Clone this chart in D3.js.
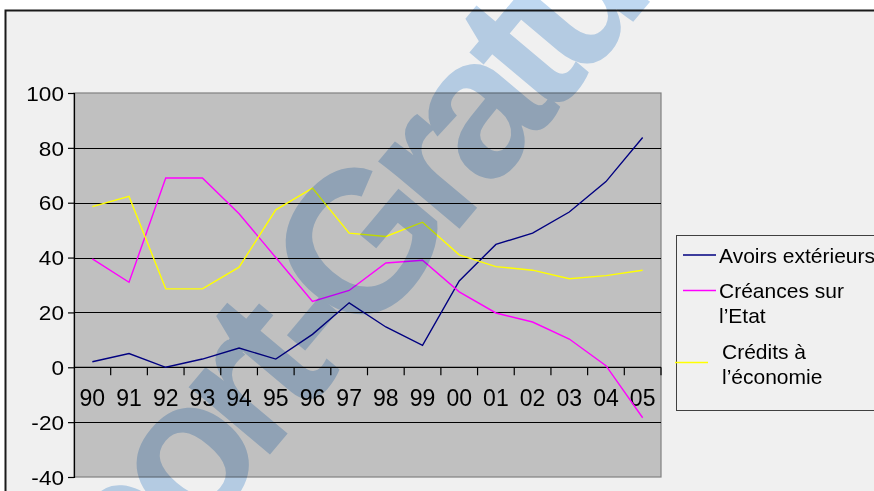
<!DOCTYPE html>
<html>
<head>
<meta charset="utf-8">
<script src="https://cdn.jsdelivr.net/npm/d3@7"></script>
<style>
  html, body { margin: 0; padding: 0; background: #ffffff; }
  svg { display: block; }
  text { font-family: "Liberation Sans", Arial, sans-serif; }
</style>
</head>
<body>
<svg id="chart" width="874" height="491"></svg>
<script>
// ---- data ----
const categories = ["90","91","92","93","94","95","96","97","98","99","00","01","02","03","04","05"];
const avoirsExterieurs = [2, 5, 0, 3, 7, 3, 12, 23.5, 14.7, 8, 31.5, 44.8, 48.9, 56.6, 67.7, 83.8];
const creancesEtat     = [39.5, 31, 69, 69, 56, 40, 24, 28, 38, 39, 27.5, 19.8, 16.5, 10.3, 0.6, -18.4];
const creditsEconomie  = [58.6, 62.3, 28.6, 28.6, 36.5, 57.4, 65.3, 48.9, 47.7, 52.9, 41, 36.7, 35.4, 32.3, 33.4, 35.4];
const yTicks = [-40, -20, 0, 20, 40, 60, 80, 100];
const seriesNames = ["Avoirs extérieurs", "Créances sur l’Etat", "Crédits à l’économie"];
const seriesColors = ["#000080", "#ff00ff", "#ffff00"];

const series = [
  { name: seriesNames[0], values: avoirsExterieurs, color: seriesColors[0] },
  { name: seriesNames[1], values: creancesEtat, color: seriesColors[1] },
  { name: seriesNames[2], values: creditsEconomie, color: seriesColors[2] }
];

const svg = d3.select("#chart");

// chart area background with frame
svg.append("rect").attr("x", 5.5).attr("y", 10.5).attr("width", 880).attr("height", 490)
  .attr("fill", "#f0f0f0").attr("stroke", "#1a1a1a").attr("stroke-width", 2);

const plot = { left: 74, right: 661, top: 93, bottom: 477 };

const x = d3.scaleBand().domain(categories).range([plot.left, plot.right]).paddingInner(0).paddingOuter(0);
const y = d3.scaleLinear().domain([-40, 100]).range([plot.bottom, plot.top]);
const cx = c => x(c) + x.bandwidth() / 2;

// plot background
svg.append("rect").attr("x", plot.left).attr("y", plot.top)
  .attr("width", plot.right - plot.left).attr("height", plot.bottom - plot.top)
  .attr("fill", "#c0c0c0").attr("stroke", "#808080").attr("stroke-width", 1.2);

// gridlines
svg.append("g").selectAll("line")
  .data(yTicks.filter(v => v !== -40 && v !== 100 && v !== 0))
  .join("line")
  .attr("x1", plot.left).attr("x2", plot.right)
  .attr("y1", d => Math.round(y(d)) + 0.5).attr("y2", d => Math.round(y(d)) + 0.5)
  .attr("stroke", "#000").attr("stroke-width", 1);

// y axis
const yAxis = svg.append("g")
  .attr("transform", `translate(${plot.left},0)`)
  .call(d3.axisLeft(y).tickValues(yTicks).tickSize(6).tickFormat(d => String(d)));
yAxis.select(".domain").attr("stroke", "#000").attr("stroke-width", 1.2);
yAxis.selectAll(".tick line").attr("stroke", "#000").attr("stroke-width", 1.2);
yAxis.selectAll(".tick text")
  .attr("font-size", 20).attr("fill", "#000")
  .attr("font-family", "'Liberation Sans', Arial, sans-serif")
  .attr("x", -10 / 1.13).attr("dy", "0.36em")
  .attr("transform", "scale(1.13,1)");

// zero axis line
svg.append("line").attr("x1", plot.left).attr("x2", plot.right)
  .attr("y1", y(0)).attr("y2", y(0)).attr("stroke", "#000").attr("stroke-width", 1.2);
// category tick marks (band boundaries)
svg.append("g").selectAll("line").data(categories).join("line")
  .attr("x1", d => x(d) + x.bandwidth()).attr("x2", d => x(d) + x.bandwidth())
  .attr("y1", y(0)).attr("y2", y(0) + 8)
  .attr("stroke", "#000").attr("stroke-width", 1.2);
// category labels
svg.append("g").selectAll("text").data(categories).join("text")
  .attr("x", d => cx(d)).attr("y", y(0) + 39)
  .attr("text-anchor", "middle").attr("font-size", 23).attr("fill", "#000")
  .text(d => d);

// lines
const line = d3.line().x((d, i) => cx(categories[i])).y(d => y(d));
svg.append("g").selectAll("path").data(series).join("path")
  .attr("d", d => line(d.values))
  .attr("fill", "none").attr("stroke", d => d.color).attr("stroke-width", 1.4)
  .attr("stroke-linejoin", "miter");

// legend
const lg = svg.append("g");
lg.append("rect").attr("x", 676.5).attr("y", 235.5).attr("width", 220).attr("height", 175)
  .attr("fill", "#f0f0f0").attr("stroke", "#404040").attr("stroke-width", 1);
const legendItems = [
  { s: series[0], lx1: 683, lx2: 716, ly: 255, tx: 719, lines: ["Avoirs extérieurs"], ty: 262.5 },
  { s: series[1], lx1: 683, lx2: 716, ly: 290.5, tx: 719, lines: ["Créances sur", "l’Etat"], ty: 298 },
  { s: series[2], lx1: 675, lx2: 708, ly: 362.5, tx: 722, lines: ["Crédits à", "l’économie"], ty: 358.5 }
];
legendItems.forEach(it => {
  lg.append("line").attr("x1", it.lx1).attr("x2", it.lx2).attr("y1", it.ly).attr("y2", it.ly)
    .attr("stroke", it.s.color).attr("stroke-width", 1.4);
  const t = lg.append("text").attr("x", it.tx).attr("y", it.ty).attr("font-size", 21).attr("fill", "#000");
  it.lines.forEach((l, i) => {
    t.append("tspan").attr("x", it.tx).attr("dy", i === 0 ? 0 : 25).text(l);
  });
});

// watermark
const wm = svg.append("g").attr("transform", "translate(362,345) rotate(-50)")
  .style("mix-blend-mode", "multiply");
wm.append("text").attr("x", 0).attr("y", 0).attr("text-anchor", "end")
  .attr("font-size", 200).attr("font-weight", "bold").attr("fill", "#bfd8f1")
  .attr("letter-spacing", -18)
  .text("Rapport-");
wm.append("text").attr("x", 0).attr("y", 0).attr("text-anchor", "start")
  .attr("font-size", 200).attr("font-weight", "bold").attr("fill", "#bfd8f1")
  .attr("letter-spacing", -18)
  .text("Gratuit.com");
</script>
</body>
</html>
